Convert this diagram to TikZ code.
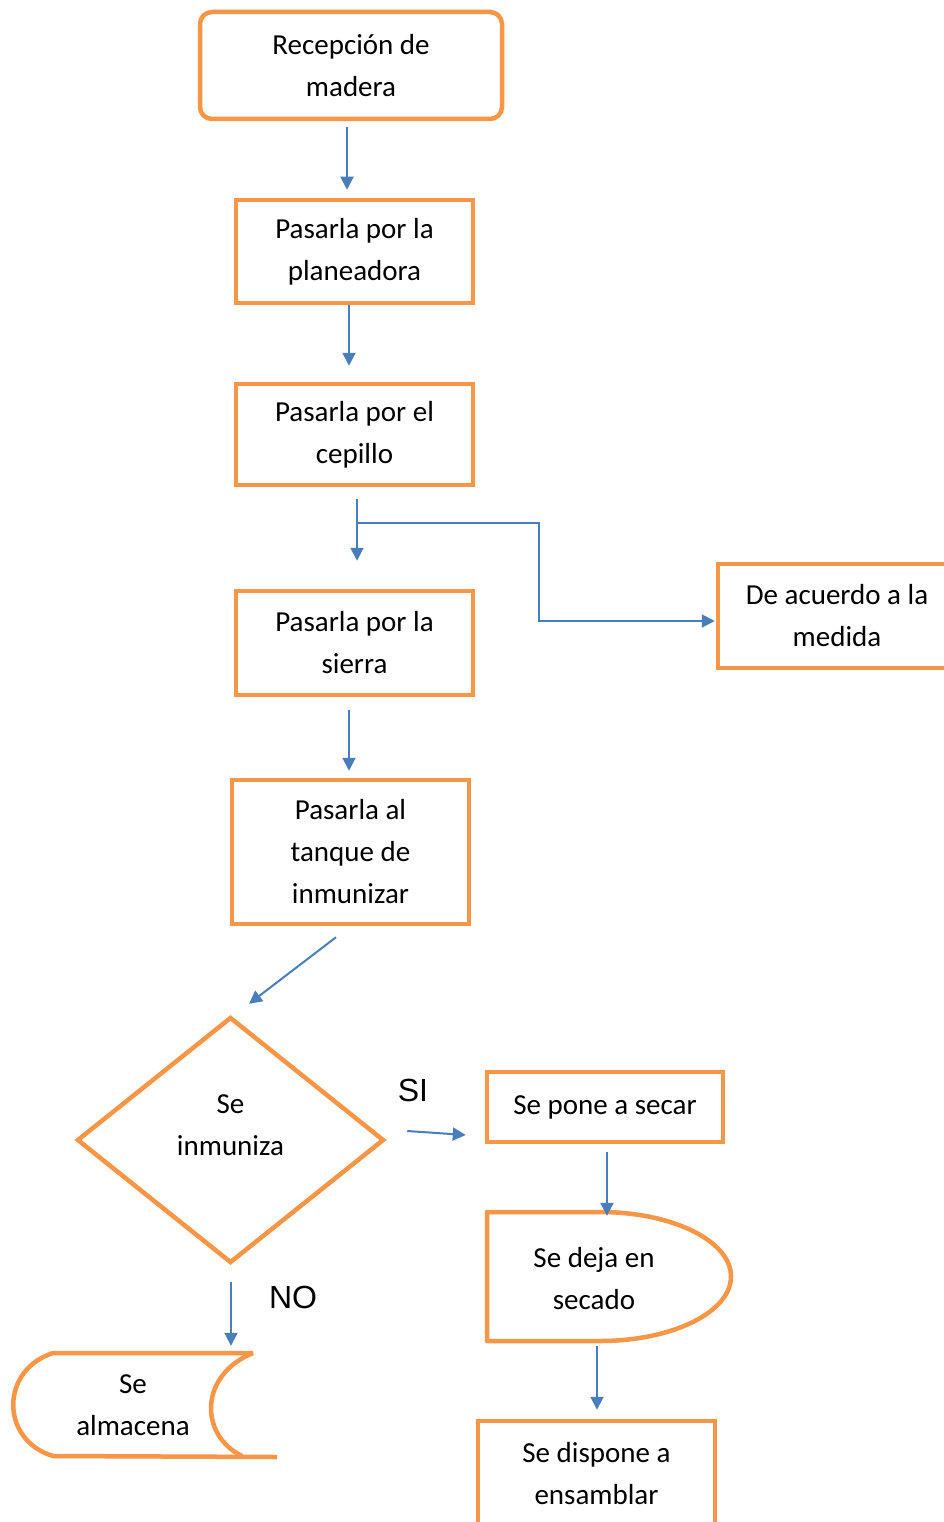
\documentclass[tikz,border=0pt]{standalone}
\usepackage{fontspec}
\setmainfont{Carlito}
\newfontfamily\arialf{Liberation Sans}
\usetikzlibrary{arrows.meta,calc,shapes.geometric}
\definecolor{orng}{HTML}{F79646}
\definecolor{blu}{HTML}{4A7EBB}
\begin{document}
\begin{tikzpicture}[x=1pt,y=-1pt,
  box/.style={draw=orng,line width=4.5pt,rectangle,inner sep=0pt,align=center,
    font=\fontsize{29}{42}\selectfont},
  txt/.style={inner sep=0pt,align=center,font=\fontsize{29}{42}\selectfont},
  arr/.style={draw=blu,line width=2pt,-{Triangle[length=13pt,width=13pt]}},
  lbl/.style={inner sep=0pt,font=\arialf\fontsize{32}{38}\selectfont}]
\useasboundingbox (0,0) rectangle (944,1522);
\clip (0,0) rectangle (944,1522);
\fill[white] (0,0) rectangle (944,1522);

\node[box,rounded corners=12pt,minimum width=302pt,minimum height=107pt] (r1) at (351,65.5) {Recepción de\\madera};
\node[box,minimum width=237pt,minimum height=103pt] (r2) at (354.5,251.5) {Pasarla por la\\planeadora};
\node[box,minimum width=237pt,minimum height=101pt] (r3) at (354.5,434.5) {Pasarla por el\\cepillo};
\node[box,minimum width=237pt,minimum height=104pt] (r4) at (354.5,643) {Pasarla por la\\sierra};
\node[box,minimum width=238pt,minimum height=104pt] (rb) at (837,616) {De acuerdo a la\\medida};
\node[box,minimum width=237pt,minimum height=144pt] (r5) at (350.5,852) {Pasarla al\\tanque de\\inmunizar};
\node[draw=orng,line width=4.5pt,diamond,inner sep=0pt,minimum width=307pt,minimum height=246pt] (dia) at (230.5,1140) {};
\node[txt] (diat) at (230.5,1125) {Se\\inmuniza};
\node[box,minimum width=236pt,minimum height=70pt] (sec) at (605,1107) {Se pone a secar};
\node[box,minimum width=237pt,minimum height=106pt] (bx) at (596.5,1474) {Se dispone a\\ensamblar};

% delay shape
\node[inner sep=0pt,minimum width=244pt,minimum height=129pt] (dl) at (609,1276.5) {};
\draw[orng,line width=4.5pt,line join=round] (487,1212) -- (600,1212)
  .. controls (672.3,1212) and (731,1240.9) .. (731,1276.5)
  .. controls (731,1312.1) and (672.3,1341) .. (600,1341) -- (487,1341) -- cycle;
\node[txt] (dlt) at (594,1279) {Se deja en\\secado};

% stored data shape
\node[inner sep=0pt,minimum width=264pt,minimum height=103pt] (st) at (145,1404.5) {};
\draw[orng,line width=4.5pt,line join=round] (253,1353) -- (53,1353)
  .. controls (0,1370) and (0,1440) .. (53,1456) -- (277,1457);
\draw[orng,line width=4.5pt] (253,1353) .. controls (199,1375) and (199,1435) .. (242,1456);
\node[txt] (stt) at (133,1405) {Se\\almacena};

\node[lbl] (si) at (413,1090) {SI};
\node[lbl] (no) at (293,1297) {NO};

% connectors
\draw[arr] ($(r1.south)+(-4,6)$) -- ($(r2.north)+(-7.5,-8)$);
\draw[arr] ($(r2.south)+(-5.5,0)$) -- ($(r3.north)+(-5.5,-16)$);
\draw[arr] ($(r3.south)+(2.5,12)$) -- ($(r4.north)+(2.5,-28)$);
\coordinate (br) at ($(r3.south)+(2.5,36)$);
\draw[arr] (br) -- ++(182,0) |- ($(rb.west)+(-1,5)$);
\draw[arr] ($(r4.south)+(-5.5,13)$) -- ($(r5.north)+(-1.5,-7)$);
\draw[arr] ($(r5.south)+(-14.5,11)$) -- ($(dia.north)+(18.5,-11)$);
\draw[arr] ($(dia.east)+(21,-9)$) -- ($(sec.west)+(-19,28)$);
\draw[arr] ($(sec.south)+(2,8)$) -- ($(dl.north)+(-2,4)$);
\draw[arr] ($(dl.south)+(-12,5)$) -- ($(bx.north)+(0.5,-9)$);
\draw[arr] ($(dia.south)+(0.5,17)$) -- ($(st.north)+(86,-7)$);
\end{tikzpicture}
\end{document}
